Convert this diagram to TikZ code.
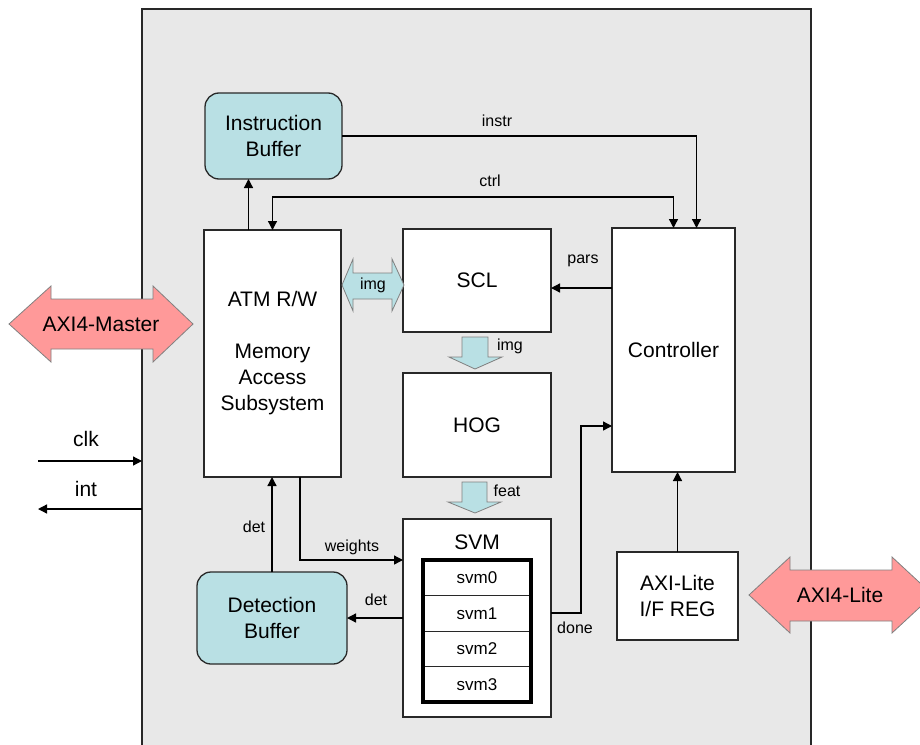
\documentclass[tikz,border=0pt]{standalone}
\usepackage{fontspec}
\setmainfont{Liberation Sans}
\usetikzlibrary{arrows.meta, positioning}

\definecolor{chipgray}{RGB}{232,232,232}
\definecolor{bufcyan}{RGB}{185,224,228}
\definecolor{busred}{RGB}{255,153,153}
\definecolor{edgegray}{RGB}{40,40,40}

\begin{document}
\begin{tikzpicture}[x=1pt, y=-1pt,
    font=\fontsize{21}{26}\selectfont,
    >={Triangle[length=9pt,width=9pt]},
    block/.style={draw=edgegray, line width=1.3pt, fill=white, outer sep=0pt, inner sep=0pt, align=center},
    buffer/.style={block, fill=bufcyan, rounded corners=14pt},
    lbl/.style={font=\fontsize{16}{18}\selectfont, inner sep=0pt},
    wire/.style={line width=1.3pt},
    busarrow/.style={draw=gray, line width=0.8pt, fill=busred},
    flowarrow/.style={draw=gray, line width=0.8pt, fill=bufcyan}]

    \useasboundingbox (0,0) rectangle (920,744);
    \clip (0,0) rectangle (920,744);

    % accelerator outline
    \node[draw=edgegray, fill=chipgray, line width=1.3pt, outer sep=0pt, anchor=north west,
          minimum width=669pt, minimum height=760pt] (chip) at (142,9) {};

    % blocks
    \node[buffer, anchor=north west, minimum width=137pt, minimum height=86pt] (ib) at (205,93) {Instruction\\Buffer};
    \node[block, anchor=north west, minimum width=137pt, minimum height=247pt] (atm) at (204,230) {ATM R/W\\[26pt]Memory\\Access\\Subsystem};
    \node[block, anchor=north west, minimum width=148pt, minimum height=103pt] (scl) at (403,229) {SCL};
    \node[block, below=41pt of scl, minimum width=148pt, minimum height=104pt] (hog) {HOG};
    \node[block, below=42pt of hog, minimum width=148pt, minimum height=198pt] (svm) {};
    \node (svmtitle) at (477,542) {SVM};
    \node[block, anchor=north west, minimum width=123pt, minimum height=244pt] (ctl) at (612,228) {Controller};
    \node[block, anchor=north west, minimum width=121pt, minimum height=88pt] (reg) at (617,552) {AXI-Lite\\I/F REG};
    \node[buffer, anchor=north west, minimum width=150pt, minimum height=92pt] (db) at (197,572) {Detection\\Buffer};

    % svm lanes
    \foreach \i in {0,...,3}
        \node[block, line width=1pt, anchor=north, minimum width=108pt, minimum height=35.5pt,
              font=\fontsize{17}{20}\selectfont] (svm\i) at (477,{560+35.5*\i}) {svm\i};
    \draw[line width=4pt] (svm0.north west) rectangle (svm3.south east);

    % control paths
    \coordinate (ctrlbend) at (490,197);
    \coordinate (parsy) at (580,288);
    \coordinate (doneturn) at (581,613);
    \coordinate (donein) at (600,426);
    \coordinate (wturn) at (300,560);
    \draw[wire, ->] (ib.east) -| ([xshift=23pt]ctl.north);
    \draw[wire, ->] ([xshift=-24pt]atm.north) -- ([xshift=-24pt]atm.north |- ib.south);
    \draw[wire, <->] (atm.north) |- (ctrlbend) -| (ctl.north);
    \draw[wire, ->] (ctl.west |- parsy) -- (scl.east |- parsy);
    \draw[wire, ->] (svm.east |- doneturn) -- (doneturn) |- (ctl.west |- donein);
    \draw[wire, ->] (reg.north) -- (reg.north |- ctl.south);
    \draw[wire, ->] (atm.south -| wturn) |- (svm.west |- wturn);
    \draw[wire, ->] (svm.west |- db.east) -- (db.east);
    \draw[wire, ->] (db.north) -- (db.north |- atm.south);

    % clock and interrupt
    \coordinate (clkin) at (38,461);
    \coordinate (intout) at (38,509);
    \draw[wire, ->] (clkin) -- (chip.west |- clkin);
    \draw[wire, ->] (chip.west |- intout) -- (intout);
    \node (clk) at (86,439) {clk};
    \node (int) at (86,489) {int};

    % data flow
    \draw[flowarrow] (342,285) -- (353,259) -- (353,273) -- (392,273) -- (392,259) -- (404,285)
        -- (392,311) -- (392,299) -- (353,299) -- (353,311) -- cycle;
    \draw[flowarrow] (462,337) -- (488,337) -- (488,357) -- (502,357) -- (475,369) -- (449,357) -- (462,357) -- cycle;
    \draw[flowarrow] (462,482) -- (487,482) -- (487,502) -- (501,502) -- (475,513) -- (448,502) -- (462,502) -- cycle;

    % bus ports
    \draw[busarrow] (9,324) -- (51,286) -- (51,299) -- (153,299) -- (153,286) -- (193,324)
        -- (153,362) -- (153,349) -- (51,349) -- (51,362) -- cycle;
    \draw[busarrow] (749,595) -- (790,557) -- (790,570) -- (892,570) -- (892,557) -- (933,595)
        -- (892,633) -- (892,621) -- (790,621) -- (790,633) -- cycle;
    \node (master) at (101,324) {AXI4-Master};
    \node (lite) at (840,595) {AXI4-Lite};

    % signal names
    \node[lbl] (instrlbl) at (497,121) {instr};
    \node[lbl] (ctrllbl) at (490,181) {ctrl};
    \node[lbl] (parslbl) at (583,261) {pars};
    \node[lbl] (imglbl) at (373,285) {img};
    \node[lbl] (imgdown) at (510,346) {img};
    \node[lbl] (featlbl) at (507,491) {feat};
    \node[lbl] (wlbl) at (352,547) {weights};
    \node[lbl] (detsvm) at (376,600) {det};
    \node[lbl] (detbuf) at (254,527) {det};
    \node[lbl] (donelbl) at (575,628) {done};
\end{tikzpicture}
\end{document}
